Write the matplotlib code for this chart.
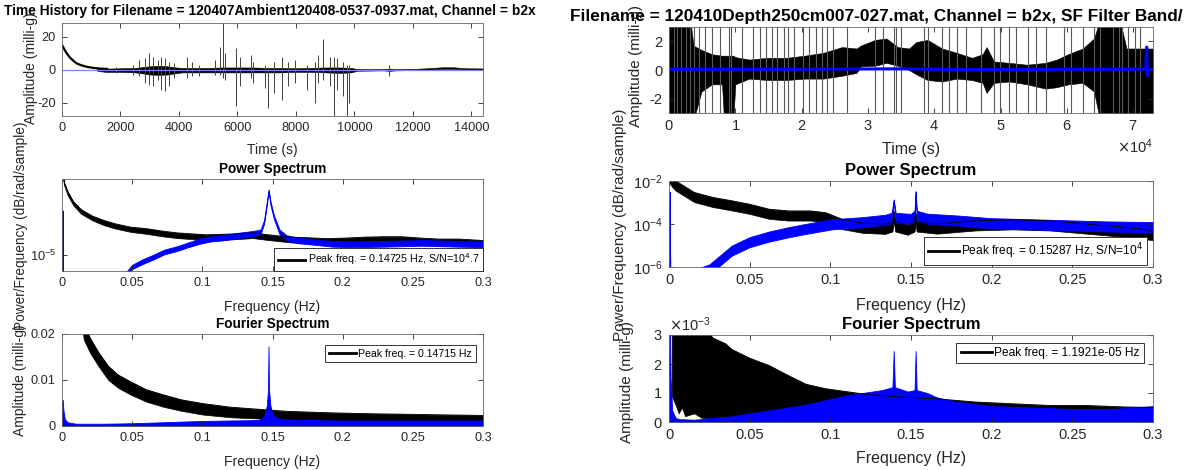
import numpy as np
import matplotlib
matplotlib.use('Agg')
import matplotlib.pyplot as plt
from matplotlib.ticker import FixedLocator, NullLocator, ScalarFormatter

plt.rcParams['font.family'] = ['Liberation Sans', 'DejaVu Sans']
plt.rcParams['axes.unicode_minus'] = False

# ---------------- 120407 ambient record (left) ----------------
# time history, milli-g
amb_decay_t = [0, 80, 160, 250, 330, 420, 500, 620, 740, 900, 1080, 1300, 1540]
amb_decay_v = [15.2, 12.5, 10.1, 8.0, 6.5, 5.1, 4.0, 3.1, 2.4, 1.7, 1.2, 0.8, 0.6]

amb_band_t = [1200, 1500, 2000, 2500, 2800, 3000, 3300, 3600, 3900, 4100, 4500, 5000,
              5500, 6000, 6500, 7000, 7500, 8000, 8500, 9000, 9500, 9900, 10100, 11000,
              11200, 11400, 12000, 12500, 13000, 13400, 13800, 14400]
amb_band_hi = [0.8, 0.8, 1.0, 1.2, 1.8, 2.2, 2.5, 2.2, 1.5, 1.2, 1.2, 1.2, 1.5, 1.5, 1.5, 1.2,
               1.2, 1.0, 1.2, 1.5, 1.5, 1.2, 0.5, 0.5, 0.8, 0.5, 0.6, 1.0, 1.6, 1.6, 1.0, 0.9]
amb_band_lo = [-0.6, -1.2, -1.2, -1.5, -2.2, -2.8, -3.0, -2.8, -2.0, -1.5, -1.5, -1.5, -1.5,
               -1.5, -1.5, -1.5, -1.5, -1.2, -1.2, -1.5, -1.8, -1.5, -0.5, -0.3, -0.6, -0.3,
               -0.1, 0.2, 0.6, 0.6, 0.3, 0.3]

amb_spike_t = [1830, 2420, 2640, 2850, 2980, 3110, 3270, 3400, 3530, 3660, 3820, 4280, 4450,
               4680, 5230, 5390, 5500, 5560, 5950, 6080, 6480, 6540, 6930, 7040, 7260, 7520,
               7720, 7980, 8370, 8660, 8770, 8940, 9160, 9290, 9420, 9620, 9750, 9810, 11200]
amb_spike_hi = [2, 3, 6, 7, 10.5, 8, 6, 8, 7, 5, 4, 8, 5, 3, 6, 14, 30, 10, 13.5, 8, 9, 5, 3,
                2, 5, 8, 5, 6, 3, 5, 9, 19, 8, 8, 7, 5, 3, 3, 3]
amb_spike_lo = [-2, -3, -4, -8, -9, -10, -6, -12, -13, -10, -5, -5, -4, -4, -3, -3, -5, -6,
                -22, -10, -5, -8, -11, -23, -14, -18, -10, -8, -12, -20, -8, -6, -10, -30,
                -12, -16, -30, -20, -4]

amb_filt_t = [0, 14400]
amb_filt_v = [0.0, 0.0]

# power spectrum, log10 of power/frequency
amb_psd_f = [0.0, 0.0014, 0.004, 0.008, 0.0136, 0.0218, 0.030, 0.038, 0.049, 0.060, 0.071,
             0.082, 0.0925, 0.103, 0.114, 0.125, 0.136, 0.147, 0.163, 0.174, 0.188, 0.201,
             0.215, 0.229, 0.242, 0.256, 0.269, 0.283, 0.3]
amb_psd_hi = [-3.99, -4.23, -4.33, -4.435, -4.52, -4.59, -4.635, -4.67, -4.705, -4.72,
              -4.745, -4.765, -4.775, -4.785, -4.78, -4.775, -4.765, -4.785, -4.81, -4.815,
              -4.825, -4.82, -4.81, -4.805, -4.805, -4.82, -4.83, -4.83, -4.845]
amb_psd_lo = [-4.01, -4.26, -4.37, -4.475, -4.565, -4.635, -4.685, -4.72, -4.755, -4.775,
              -4.8, -4.82, -4.83, -4.845, -4.84, -4.83, -4.82, -4.84, -4.865, -4.875, -4.88,
              -4.885, -4.875, -4.87, -4.87, -4.885, -4.895, -4.895, -4.91]

amb_psd_filt_f = [0.0, 0.0003, 0.0006, 0.0012, 0.046, 0.05, 0.057, 0.065, 0.073, 0.082, 0.09,
                  0.098, 0.106, 0.114, 0.125, 0.136, 0.1415, 0.144, 0.146, 0.14725, 0.1485,
                  0.151, 0.155, 0.16, 0.169, 0.18, 0.193, 0.207, 0.229, 0.256, 0.283, 0.3]
amb_psd_filt_hi = [-5.5, -4.53, -5.3, -5.6, -5.17, -5.1, -5.045, -4.995, -4.94, -4.905,
                   -4.865, -4.825, -4.8, -4.79, -4.765, -4.745, -4.73, -4.63, -4.43, -4.31,
                   -4.43, -4.58, -4.73, -4.79, -4.815, -4.835, -4.85, -4.855, -4.85, -4.84,
                   -4.85, -4.855]
amb_psd_filt_lo = [-5.5, -4.53, -5.3, -5.6, -5.21, -5.145, -5.095, -5.045, -4.99, -4.955,
                   -4.915, -4.88, -4.855, -4.845, -4.82, -4.8, -4.78, -4.67, -4.47, -4.33,
                   -4.47, -4.62, -4.78, -4.845, -4.875, -4.89, -4.91, -4.915, -4.91, -4.9,
                   -4.91, -4.915]

# fourier amplitude, milli-g
amb_fft_f = [0.008, 0.012, 0.0155, 0.02, 0.026, 0.033, 0.04, 0.049, 0.06, 0.072, 0.085, 0.1,
             0.12, 0.142, 0.16, 0.188, 0.215, 0.256, 0.3]
amb_fft_hi = [0.047, 0.032, 0.0222, 0.0191, 0.016, 0.013, 0.0111, 0.0096, 0.0079, 0.0068,
              0.0057, 0.0049, 0.0041, 0.0036, 0.0032, 0.0029, 0.0027, 0.0025, 0.0023]
amb_fft_lo = [0.043, 0.028, 0.0188, 0.0159, 0.013, 0.0100, 0.0083, 0.0068, 0.0053, 0.0042,
              0.0033, 0.0025, 0.0019, 0.0016, 0.0012, 0.0010, 0.0008, 0.0006, 0.0005]

amb_fft_filt_f = [0.0, 0.0005, 0.001, 0.002, 0.004, 0.01, 0.03, 0.05, 0.08, 0.1, 0.12, 0.14,
                  0.144, 0.146, 0.1468, 0.14715, 0.1475, 0.1485, 0.15, 0.155, 0.17, 0.2, 0.25,
                  0.3]
amb_fft_filt_hi = [0.0057, 0.0057, 0.0035, 0.0015, 0.0008, 0.0005, 0.0005, 0.0006, 0.0009,
                   0.0011, 0.0012, 0.0013, 0.002, 0.0045, 0.008, 0.0173, 0.008, 0.0045,
                   0.0025, 0.0015, 0.0013, 0.0012, 0.0012, 0.0012]

# ---------------- 120410 depth 250 cm record (right) ----------------
dep_band_t = [0, 3200, 3700, 4900, 6500, 8000, 8300, 9700, 10000, 12100, 14900, 17700, 20500,
              23300, 26100, 28300, 28900, 31100, 32800, 34500, 36200, 37300, 39000, 41200,
              43400, 45700, 47300, 47900, 49000, 51300, 54000, 56800, 58500, 60200, 62400,
              64100, 65000, 68000, 69000, 73000]
dep_band_hi = [3.5, 3.5, 1.7, 1.4, 1.1, 1.0, 1.0, 1.0, 0.9, 0.73, 0.85, 0.85, 1.0, 1.2, 1.6,
               1.5, 1.7, 2.1, 2.2, 1.6, 1.5, 1.95, 2.1, 1.5, 1.2, 0.85, 1.1, 1.6, 0.6, 0.5,
               0.37, 0.5, 0.73, 1.1, 1.5, 2.2, 3.5, 3.5, 1.5, 1.5]
dep_band_lo = [-3.5, -3.5, -3.5, -1.5, -1.0, -1.0, -3.5, -3.5, -1.0, -0.6, -0.7, -0.7, -0.6,
               -0.6, -0.4, -0.2, 0.25, 0.3, 0.5, 0.3, 0.0, -0.3, -0.7, -0.8, -0.6, -0.7, -0.9,
               -1.6, -0.9, -0.8, -1.0, -1.3, -1.2, -1.0, -0.9, -1.5, -3.5, -3.5, -3.5, -3.5]

dep_spike_t = [700, 1200, 1800, 2600, 3200, 3700, 4600, 5400, 6500, 7700, 9100, 9400, 11000,
               12700, 13800, 14600, 15500, 16300, 17400, 18000, 18800, 20200, 21100, 22200,
               23100, 23900, 24700, 26900, 31100, 32300, 33900, 34200, 35000, 38400, 39000,
               41200, 42300, 43400, 44800, 47100, 49000, 49900, 51300, 52400, 54100, 55400,
               56800, 59600, 60700, 62400, 64100, 65000, 66900, 67800, 68300, 69200, 70300,
               71100]

dep_filt_t = [0, 20000, 28500, 35000, 40000, 50000, 60000, 71900, 72050, 72150, 72300, 73000]
dep_filt_v = [0.05, 0.05, 0.07, 0.08, 0.05, 0.04, 0.05, 0.05, 1.6, -0.4, 0.05, 0.05]

dep_psd_f = [0.0, 0.0017, 0.004, 0.0156, 0.027, 0.039, 0.05, 0.062, 0.074, 0.0875, 0.097,
             0.108, 0.12, 0.134, 0.1385, 0.1393, 0.1402, 0.148, 0.1522, 0.15287, 0.1535,
             0.166, 0.19, 0.213, 0.236, 0.259, 0.282, 0.3]
dep_psd_hi = [-1.6, -1.8, -1.99, -2.53, -2.76, -2.92, -3.08, -3.31, -3.39, -3.39, -3.47, -3.8,
              -3.96, -4.01, -3.9, -3.4, -3.9, -4.05, -3.9, -3.5, -3.9, -4.0, -3.85, -3.8,
              -3.85, -4.0, -4.15, -4.3]
dep_psd_lo = [-2.05, -2.25, -2.44, -2.98, -3.21, -3.37, -3.53, -3.76, -3.84, -3.84, -3.92,
              -4.25, -4.41, -4.46, -4.35, -3.85, -4.35, -4.5, -4.35, -3.95, -4.35, -4.45,
              -4.3, -4.25, -4.3, -4.45, -4.6, -4.75]

dep_psd_filt_f = [0.0, 0.0004, 0.0008, 0.0015, 0.025, 0.039, 0.05, 0.062, 0.074, 0.085, 0.101,
                  0.12, 0.134, 0.138, 0.1393, 0.1405, 0.15, 0.1522, 0.15287, 0.1536, 0.16,
                  0.178, 0.2, 0.225, 0.248, 0.271, 0.3]
dep_psd_filt_hi = [-6.5, -2.5, -6.5, -6.5, -5.88, -5.0, -4.61, -4.35, -4.15, -3.99, -3.78,
                   -3.68, -3.57, -3.48, -2.86, -3.48, -3.53, -3.38, -2.47, -3.38, -3.52, -3.6,
                   -3.73, -3.78, -3.83, -3.88, -3.91]
dep_psd_filt_lo = [-6.5, -2.5, -6.5, -6.5, -6.35, -5.47, -5.08, -4.82, -4.62, -4.46, -4.25,
                   -4.15, -4.04, -3.95, -2.9, -3.95, -4.0, -3.85, -2.5, -3.85, -3.99, -4.07,
                   -4.2, -4.25, -4.3, -4.35, -4.38]

# fourier amplitude in units of 1e-3 milli-g
dep_fft_f = [0.0017, 0.004, 0.006, 0.008, 0.01, 0.0156, 0.02, 0.027, 0.035, 0.039, 0.05,
             0.062, 0.074, 0.085, 0.097, 0.12, 0.143, 0.166, 0.19, 0.213, 0.236, 0.259, 0.282,
             0.3]
dep_fft_hi = [3.5, 3.5, 3.5, 3.5, 3.5, 3.5, 3.5, 2.9, 2.7, 2.5, 2.2, 1.95, 1.6, 1.3, 1.15, 0.97,
              0.86, 0.8, 0.69, 0.63, 0.57, 0.57, 0.52, 0.5]
dep_fft_lo = [0.9, 0.6, 0.3, 0.5, 0.2, 0.3, 0.15, 0.1, 0.08, 0.1, 0.1, 0.1, 0.15, 0.2, 0.25,
              0.3, 0.35, 0.35, 0.33, 0.33, 0.3, 0.3, 0.28, 0.28]

dep_fft_filt_f = [0.0, 0.0005, 0.001, 0.002, 0.004, 0.006, 0.0156, 0.039, 0.05, 0.062, 0.074,
                  0.085, 0.097, 0.108, 0.12, 0.132, 0.1385, 0.1393, 0.14, 0.148, 0.1522,
                  0.15287, 0.1535, 0.16, 0.166, 0.178, 0.2, 0.225, 0.25, 0.275, 0.3]
dep_fft_filt_hi = [3.5, 3.5, 1.5, 0.4, 0.15, 0.1, 0.08, 0.2, 0.3, 0.4, 0.5, 0.6, 0.75, 0.9,
                   1.0, 1.1, 1.2, 2.45, 1.2, 1.05, 1.1, 2.45, 1.1, 1.0, 0.85, 0.7, 0.55, 0.5,
                   0.45, 0.45, 0.55]

W, H = 1188, 470
BLUE = '#0000ff'
TXT = '#262626'
FREQ_TICKS = ['0', '0.05', '0.1', '0.15', '0.2', '0.25', '0.3']


def box(px_left, px_top, px_right, px_bottom):
    # pixel box -> figure fraction rect
    return [px_left / W, 1 - px_bottom / H, (px_right - px_left) / W, (px_bottom - px_top) / H]


def style(ax, fs):
    ax.tick_params(which='both', direction='in', top=True, right=True, length=3.5,
                   width=0.6, labelsize=fs, colors=TXT, pad=4.5)
    for s in ax.spines.values():
        s.set_color('0.4')
        s.set_linewidth(0.6)


def freq_axis(ax, fs, pad):
    ax.set_xlim(0, 0.3)
    ax.set_xticks(np.arange(0, 0.301, 0.05))
    ax.set_xticklabels(FREQ_TICKS)
    ax.set_xlabel('Frequency (Hz)', fontsize=fs, color=TXT, labelpad=pad)


def peak_legend(ax, line, label, fs, loc, anchor):
    leg = ax.legend([line], [label], loc=loc, bbox_to_anchor=anchor, fontsize=fs,
                    fancybox=False, framealpha=1, edgecolor='0.2', handlelength=2.6,
                    handletextpad=0.2, borderpad=0.35, borderaxespad=0)
    leg.get_frame().set_linewidth(0.7)
    leg.get_lines()[0].set_linewidth(2)
    return leg


fig = plt.figure(figsize=(W / 100, H / 100), dpi=100)

# ---------- left: time history ----------
ax = fig.add_axes(box(62, 23, 483, 116))
ax.fill_between(amb_band_t, amb_band_lo, amb_band_hi, color='k', lw=0.4)
ax.plot(amb_decay_t, amb_decay_v, color='k', lw=1.6)
ax.vlines(amb_spike_t, amb_spike_lo, amb_spike_hi, color='0.25', lw=0.7)
ax.plot(amb_filt_t, amb_filt_v, color='#7f7fff', lw=0.9)
ax.set_xlim(0, 14400)
ax.set_ylim(-28, 28.5)
ax.set_xticks(range(0, 14001, 2000))
ax.set_yticks([-20, 0, 20])
ax.set_xlabel('Time (s)', fontsize=10, color=TXT, labelpad=6)
style(ax, 9.2)

# ---------- left: power spectrum ----------
ax = fig.add_axes(box(62, 179, 483, 271))
ax.fill_between(amb_psd_f, 10 ** np.array(amb_psd_lo), 10 ** np.array(amb_psd_hi), color='k', lw=0.5)
psd_line, = ax.plot(amb_psd_f, 10 ** np.array(amb_psd_hi), color='k', lw=0.6)
ax.fill_between(amb_psd_filt_f, 10 ** np.array(amb_psd_filt_lo), 10 ** np.array(amb_psd_filt_hi),
                color=BLUE, lw=0.6, edgecolor=BLUE)
ax.set_yscale('log')
ax.set_ylim(10 ** -5.165, 10 ** -4.2)
ax.yaxis.set_major_locator(FixedLocator([1e-5]))
ax.yaxis.set_minor_locator(NullLocator())
freq_axis(ax, 10, 8)
ax.set_title('Power Spectrum', fontsize=9.8, fontweight='bold', color='k', pad=4)
style(ax, 9.2)
peak_legend(ax, psd_line, 'Peak freq. = 0.14725 Hz, S/N=10$^{4}$.7', 7.7, 'lower right', (1.0, 0.0))

# ---------- left: fourier spectrum ----------
ax = fig.add_axes(box(62, 334, 483, 426))
ax.fill_between(amb_fft_f, amb_fft_lo, amb_fft_hi, color='k', lw=0.5)
fft_line, = ax.plot(amb_fft_f, amb_fft_hi, color='k', lw=0.6)
ax.fill_between(amb_fft_filt_f, 0, amb_fft_filt_hi, color=BLUE, lw=0.6, edgecolor=BLUE)
ax.set_ylim(0, 0.02)
ax.set_yticks([0, 0.01, 0.02])
ax.set_yticklabels(['0', '0.01', '0.02'])
freq_axis(ax, 10, 8)
ax.set_title('Fourier Spectrum', fontsize=9.8, fontweight='bold', color='k', pad=4)
style(ax, 9.2)
peak_legend(ax, fft_line, 'Peak freq. = 0.14715 Hz', 7.6, 'upper right', (0.983, 0.88))

# ---------- right: time history ----------
ax = fig.add_axes(box(669, 27, 1153, 113))
ax.fill_between(dep_band_t, dep_band_lo, dep_band_hi, color='k', lw=0.4)
ax.vlines(dep_spike_t, -6, 6, color='0.35', lw=0.8)
ax.plot(dep_filt_t, dep_filt_v, color=BLUE, lw=2.2)
ax.set_xlim(0, 73000)
ax.set_ylim(-3, 3)
ax.set_yticks([-2, 0, 2])
ax.set_xticks(range(0, 70001, 10000))
fmt = ScalarFormatter(useMathText=True)
fmt.set_powerlimits((4, 4))
ax.xaxis.set_major_formatter(fmt)
ax.set_xlabel('Time (s)', fontsize=11.5, color=TXT, labelpad=6)
style(ax, 10.5)
ax.xaxis.get_offset_text().set_fontsize(10.5)
ax.xaxis.get_offset_text().set_color(TXT)

# ---------- right: power spectrum ----------
ax = fig.add_axes(box(669, 181, 1153, 267))
ax.fill_between(dep_psd_f, 10 ** np.array(dep_psd_lo), 10 ** np.array(dep_psd_hi), color='k', lw=0.5)
psd_line, = ax.plot(dep_psd_f, 10 ** np.array(dep_psd_hi), color='k', lw=0.6)
ax.fill_between(dep_psd_filt_f, 10 ** np.array(dep_psd_filt_lo), 10 ** np.array(dep_psd_filt_hi),
                color=BLUE, lw=0.6, edgecolor=BLUE)
ax.set_yscale('log')
ax.set_ylim(1e-6, 1e-2)
ax.yaxis.set_major_locator(FixedLocator([1e-6, 1e-4, 1e-2]))
ax.yaxis.set_minor_locator(NullLocator())
freq_axis(ax, 11.5, 8)
ax.set_title('Power Spectrum', fontsize=12, fontweight='bold', color='k', pad=4)
style(ax, 10.5)
peak_legend(ax, psd_line, 'Peak freq. = 0.15287 Hz, S/N=10$^{4}$', 8.6, 'lower right', (0.988, 0.023))

# ---------- right: fourier spectrum ----------
ax = fig.add_axes(box(669, 335, 1153, 422))
ax.fill_between(dep_fft_f, np.array(dep_fft_lo) * 1e-3, np.array(dep_fft_hi) * 1e-3, color='k', lw=0.5)
fft_line, = ax.plot(dep_fft_f, np.array(dep_fft_hi) * 1e-3, color='k', lw=0.6)
ax.fill_between(dep_fft_filt_f, 0, np.array(dep_fft_filt_hi) * 1e-3, color=BLUE, lw=0.6, edgecolor=BLUE)
ax.set_ylim(0, 3e-3)
ax.set_yticks([0, 1e-3, 2e-3, 3e-3])
fmt = ScalarFormatter(useMathText=True)
fmt.set_powerlimits((-3, -3))
ax.yaxis.set_major_formatter(fmt)
freq_axis(ax, 11.5, 6)
ax.set_title('Fourier Spectrum', fontsize=12, fontweight='bold', color='k', pad=4)
style(ax, 10.5)
ax.yaxis.get_offset_text().set_fontsize(10.5)
ax.yaxis.get_offset_text().set_color(TXT)
peak_legend(ax, fft_line, 'Peak freq. = 1.1921e-05 Hz', 8.6, 'upper right', (0.981, 0.908))

# ---------- figure-level titles and y labels ----------
fig.text(270 / W, 1 - 11 / H, 'Time History for Filename = 120407Ambient120408-0537-0937.mat, Channel = b2x',
         ha='center', va='center', fontsize=9.9, fontweight='bold')
fig.text(570 / W, 1 - 16 / H, 'Filename = 120410Depth250cm007-027.mat, Channel = b2x, SF Filter Band/',
         ha='left', va='center', fontsize=12.4, fontweight='bold')

ylab = dict(rotation=90, ha='center', va='center', color=TXT)
fig.text(31 / W, 1 - 68 / H, 'Amplitude (milli-g)', fontsize=10, **ylab)
fig.text(21 / W, 1 - 226 / H, 'Power/Frequency (dB/rad/sample)', fontsize=9.8, **ylab)
fig.text(20 / W, 1 - 380 / H, 'Amplitude (milli-g)', fontsize=10, **ylab)
fig.text(636 / W, 1 - 66 / H, 'Amplitude (milli-g)', fontsize=11, **ylab)
fig.text(620 / W, 1 - 225 / H, 'Power/Frequency (dB/rad/sample)', fontsize=11, **ylab)
fig.text(627 / W, 1 - 382 / H, 'Amplitude (milli-g)', fontsize=11, **ylab)

fig.savefig('out.png', dpi=100)
